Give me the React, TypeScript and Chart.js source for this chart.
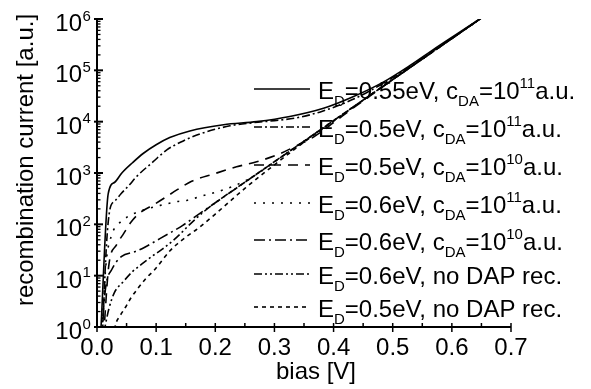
import React, { useEffect, useRef } from 'react';
import { Chart, registerables } from 'chart.js';

Chart.register(...registerables);

// ---- data (bias in V, recombination current as log10 of a.u.) ----
const biasA = [0.006, 0.019, 0.03, 0.042, 0.06, 0.078, 0.1, 0.123, 0.157, 0.214, 0.27, 0.326, 0.383, 0.43, 0.484, 0.53, 0.568, 0.61, 0.66];
const logA = [-0.2, 2.6, 2.82, 3.0, 3.2, 3.38, 3.55, 3.69, 3.82, 3.94, 4.0, 4.1, 4.26, 4.47, 4.77, 5.1, 5.4, 5.72, 6.1];

const biasB = [0.009, 0.016, 0.022, 0.03, 0.041, 0.055, 0.066, 0.095, 0.118, 0.145, 0.174, 0.225, 0.264, 0.3, 0.34, 0.38, 0.43, 0.48, 0.53, 0.57, 0.61, 0.66];
const logB = [-0.2, 1.6, 2.3, 2.45, 2.6, 2.77, 2.92, 3.22, 3.45, 3.62, 3.76, 3.92, 3.98, 4.02, 4.08, 4.2, 4.42, 4.72, 5.08, 5.4, 5.7, 6.1];

const biasC = [0.011, 0.02, 0.033, 0.045, 0.058, 0.072, 0.097, 0.115, 0.135, 0.16, 0.197, 0.236, 0.27, 0.304, 0.332, 0.366, 0.4, 0.43, 0.47, 0.5, 0.55, 0.6, 0.66];
const logC = [-0.2, 1.2, 1.6, 1.82, 2.05, 2.22, 2.39, 2.52, 2.67, 2.84, 2.98, 3.12, 3.22, 3.35, 3.5, 3.7, 3.98, 4.24, 4.57, 4.82, 5.22, 5.62, 6.1];

const biasD = [0.008, 0.015, 0.025, 0.035, 0.052, 0.071, 0.09, 0.111, 0.134, 0.153, 0.174, 0.213, 0.253, 0.28, 0.31, 0.35, 0.4, 0.45, 0.5, 0.55, 0.6, 0.66];
const logD = [-0.2, 1.2, 1.8, 1.99, 2.15, 2.25, 2.32, 2.38, 2.44, 2.47, 2.54, 2.67, 2.86, 3.05, 3.3, 3.62, 4.02, 4.42, 4.82, 5.22, 5.62, 6.1];

const biasE = [0.007, 0.015, 0.025, 0.041, 0.065, 0.08, 0.1, 0.123, 0.145, 0.165, 0.2, 0.25, 0.3, 0.35, 0.4, 0.45, 0.5, 0.55, 0.6, 0.66];
const logE = [-0.2, 0.8, 1.12, 1.37, 1.47, 1.55, 1.68, 1.83, 1.98, 2.14, 2.42, 2.82, 3.22, 3.62, 4.02, 4.42, 4.82, 5.22, 5.62, 6.1];

const biasF = [0.01, 0.02, 0.029, 0.045, 0.06, 0.074, 0.092, 0.111, 0.136, 0.157, 0.18, 0.2, 0.25, 0.3, 0.35, 0.4, 0.45, 0.5, 0.55, 0.6, 0.66];
const logF = [-0.2, 0.35, 0.66, 0.89, 1.08, 1.21, 1.37, 1.52, 1.76, 2.0, 2.24, 2.42, 2.82, 3.22, 3.62, 4.02, 4.42, 4.82, 5.22, 5.62, 6.1];

const biasG = [0.027, 0.032, 0.038, 0.049, 0.057, 0.069, 0.083, 0.097, 0.111, 0.123, 0.14, 0.174, 0.2, 0.25, 0.3, 0.35, 0.4, 0.45, 0.5, 0.55, 0.6, 0.66];
const logG = [-0.2, 0.07, 0.2, 0.4, 0.56, 0.75, 0.95, 1.11, 1.31, 1.48, 1.66, 1.95, 2.2, 2.7, 3.16, 3.6, 4.01, 4.42, 4.82, 5.22, 5.62, 6.1];

const legendEnergy = ['0.55', '0.5', '0.5', '0.6', '0.6', '0.6', '0.5'];
const legendConc = ['11', '11', '10', '11', '10', '', ''];

const xTickLabels = ['0.0', '0.1', '0.2', '0.3', '0.4', '0.5', '0.6', '0.7'];
const yTickExponents = ['0', '1', '2', '3', '4', '5', '6'];

const seriesBias = [biasA, biasB, biasC, biasD, biasE, biasF, biasG];
const seriesLog = [logA, logB, logC, logD, logE, logF, logG];

// styles
const DASHES: number[][] = [
  [],
  [8, 3, 2, 3],
  [10, 7],
  [2, 7],
  [11, 4, 2, 4],
  [8, 3, 2, 3, 2, 3],
  [4, 4],
];
const FONT = '"Liberation Sans", Arial, sans-serif';
const LEGEND_Y = [89, 127, 165, 203, 240, 274, 307];

const overlay = {
  id: 'overlay',
  afterDraw(chart: any) {
    const ctx = chart.ctx as CanvasRenderingContext2D;
    const xs = chart.scales.x;
    const ys = chart.scales.y;
    const area = chart.chartArea;
    ctx.save();
    ctx.strokeStyle = '#000';
    ctx.fillStyle = '#000';
    ctx.setLineDash([]);
    // axis lines
    ctx.lineWidth = 2;
    ctx.beginPath();
    ctx.moveTo(area.left, area.top);
    ctx.lineTo(area.left, area.bottom);
    ctx.lineTo(area.right, area.bottom);
    ctx.stroke();
    // y ticks
    ctx.lineWidth = 1.3;
    for (let e = 0; e < 6; e++) {
      for (let m = 2; m <= 9; m++) {
        const y = ys.getPixelForValue(m * Math.pow(10, e));
        ctx.beginPath();
        ctx.moveTo(area.left, y);
        ctx.lineTo(area.left + 3.5, y);
        ctx.stroke();
      }
    }
    ctx.lineWidth = 2;
    yTickExponents.forEach((ex) => {
      const y = ys.getPixelForValue(Math.pow(10, Number(ex)));
      ctx.beginPath();
      ctx.moveTo(area.left - 3, y);
      ctx.lineTo(area.left + 6, y);
      ctx.stroke();
    });
    // x ticks
    for (let i = 0; i <= 14; i++) {
      const x = xs.getPixelForValue(i * 0.05);
      ctx.lineWidth = 1.5;
      ctx.beginPath();
      if (i % 2 === 0) {
        ctx.moveTo(x, area.bottom - 4);
        ctx.lineTo(x, area.bottom + 5);
      } else {
        ctx.moveTo(x, area.bottom - 4);
        ctx.lineTo(x, area.bottom);
      }
      ctx.stroke();
    }
    // y tick labels
    yTickExponents.forEach((ex) => {
      const y = ys.getPixelForValue(Math.pow(10, Number(ex)));
      ctx.font = `24px ${FONT}`;
      ctx.textAlign = 'right';
      ctx.textBaseline = 'alphabetic';
      ctx.fillText('10', 82, y + 12);
      ctx.font = `15px ${FONT}`;
      ctx.textAlign = 'left';
      ctx.fillText(ex, 82.5, y + 1.5);
    });
    // x tick labels
    ctx.font = `24px ${FONT}`;
    ctx.textAlign = 'center';
    xTickLabels.forEach((lab) => {
      const x = xs.getPixelForValue(Number(lab));
      ctx.fillText(lab, x, 355);
    });
    // axis titles
    ctx.fillText('bias [V]', 316, 379);
    ctx.save();
    ctx.translate(33, 160);
    ctx.rotate(-Math.PI / 2);
    ctx.textAlign = 'center';
    ctx.fillText('recombination current [a.u.]', 0, 0);
    ctx.restore();
    // legend
    legendEnergy.forEach((en, i) => {
      const y = LEGEND_Y[i];
      ctx.lineWidth = 1.6;
      ctx.setLineDash(DASHES[i]);
      ctx.beginPath();
      ctx.moveTo(254, y);
      ctx.lineTo(310, y);
      ctx.stroke();
      ctx.setLineDash([]);
      const base = y + 9.5;
      let x = 318;
      ctx.textAlign = 'left';
      const put = (t: string, size: number, dy: number) => {
        ctx.font = `${size}px ${FONT}`;
        ctx.fillText(t, x, base + dy);
        x += ctx.measureText(t).width;
      };
      put('E', 24, 0);
      put('D', 15, 7.5);
      if (legendConc[i]) {
        put(`=${en}eV, c`, 24, 0);
        put('DA', 15, 7.5);
        put('=10', 24, 0);
        put(legendConc[i], 15, -11);
        put('a.u.', 24, 0);
      } else {
        put(`=${en}eV, no DAP rec.`, 24, 0);
      }
    });
    ctx.restore();
  },
};

export default function App() {
  const ref = useRef<HTMLCanvasElement>(null);
  useEffect(() => {
    if (!ref.current) return;
    const datasets = seriesBias.map((b, i) => ({
      data: b.map((x, k) => ({ x, y: Math.pow(10, seriesLog[i][k]) })),
      borderColor: '#000',
      borderWidth: 1.6,
      borderDash: DASHES[i],
      pointRadius: 0,
      fill: false,
      cubicInterpolationMode: 'monotone' as const,
    }));
    const chart = new Chart(ref.current, {
      type: 'line',
      data: { datasets },
      options: {
        responsive: false,
        animation: false,
        layout: { padding: { left: 97, right: 80, top: 19, bottom: 62 } },
        plugins: { legend: { display: false }, tooltip: { enabled: false } },
        scales: {
          x: { type: 'linear', min: 0, max: 0.7, display: false },
          y: { type: 'logarithmic', min: 1, max: 1e6, display: false },
        },
      },
      plugins: [overlay],
    });
    return () => chart.destroy();
  }, []);
  return (
    <div style={{ position: 'fixed', left: 0, top: 0, width: 591, height: 389, background: '#fff' }}>
      <canvas ref={ref} width={591} height={389} style={{ display: 'block' }} />
    </div>
  );
}
